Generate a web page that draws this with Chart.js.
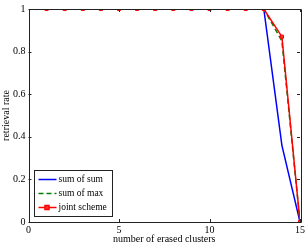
<!DOCTYPE html>
<html><head><meta charset="utf-8">
<script src="https://cdn.jsdelivr.net/npm/chart.js@4/dist/chart.umd.min.js"></script>
<style>html,body{margin:0;padding:0;background:#fff}#w{width:308px;height:246px}</style>
</head><body><div id="w"><canvas id="c"></canvas></div>
<script>
const clusters = [1,2,3,4,5,6,7,8,9,10,11,12,13,14,15];
const sumOfSum = [1,1,1,1,1,1,1,1,1,1,1,1,1,0.36,0];
const sumOfMax = [1,1,1,1,1,1,1,1,1,1,1,1,1,0.85,0];
const jointScheme = [1,1,1,1,1,1,1,1,1,1,1,1,1,0.87,0];
const xTicks = [0,5,10,15];
const yTicks = [0,0.2,0.4,0.6,0.8,1];
const seriesNames = ['sum of sum','sum of max','joint scheme'];
const FONT = '"Liberation Serif", "DejaVu Serif", serif';

const pts = a => a.map((v,i)=>({x:clusters[i],y:v}));

const framePlugin = {
  id:'frame',
  afterDatasetsDraw(chart){
    const {ctx, chartArea:a, scales:{x,y}} = chart;
    ctx.save();
    ctx.strokeStyle='#222'; ctx.lineWidth=1;
    ctx.beginPath();
    ctx.rect(Math.round(a.left)+0.5, Math.round(a.top)+0.5, Math.round(a.right-a.left), Math.round(a.bottom-a.top));
    ctx.stroke();
    const L=3;
    ctx.beginPath();
    xTicks.forEach(v=>{const px=Math.round(x.getPixelForValue(v))+0.5;
      ctx.moveTo(px,a.bottom);ctx.lineTo(px,a.bottom-L);
      ctx.moveTo(px,a.top);ctx.lineTo(px,a.top+L);});
    yTicks.forEach(v=>{const py=Math.round(y.getPixelForValue(v))+0.5;
      ctx.moveTo(a.left,py);ctx.lineTo(a.left+L,py);
      ctx.moveTo(a.right,py);ctx.lineTo(a.right-L,py);});
    ctx.stroke();
    // legend
    const lx=Math.round(a.left)+5.5, ly=170.5, lw=78, lh=46;
    ctx.fillStyle='#fff'; ctx.fillRect(lx,ly,lw,lh);
    ctx.strokeStyle='#222'; ctx.strokeRect(lx,ly,lw,lh);
    const ds = chart.data.datasets;
    const order=[0,1,2];
    ctx.font='9.5px '+FONT; ctx.textBaseline='middle'; ctx.fillStyle='#000';
    order.forEach((k,i)=>{
      const d=ds[k]; const yy=ly+9+i*14;
      ctx.save();
      ctx.strokeStyle=d.borderColor; ctx.lineWidth=d.borderWidth;
      ctx.setLineDash(d.borderDash||[]);
      ctx.beginPath(); ctx.moveTo(lx+4,yy); ctx.lineTo(lx+22,yy); ctx.stroke();
      if(d.pointStyle==='rect' && d.pointRadius>0){
        ctx.setLineDash([]); ctx.fillStyle=d.pointBackgroundColor; ctx.strokeStyle=d.pointBorderColor;
        ctx.fillRect(lx+10.5,yy-2,4,4); ctx.strokeRect(lx+10.5,yy-2,4,4);
      }
      ctx.restore();
      ctx.fillStyle='#000';
      ctx.fillText(d.label, lx+24, yy);
    });
    ctx.restore();
  }
};

new Chart(document.getElementById('c'),{
  type:'line',
  data:{datasets:[
    {label:seriesNames[0],data:pts(sumOfSum),borderColor:'#0000ff',borderWidth:1.5,pointRadius:0,order:3},
    {label:seriesNames[1],data:pts(sumOfMax),borderColor:'#008000',borderWidth:1.5,borderDash:[5,3],pointRadius:0,order:2},
    {label:seriesNames[2],data:pts(jointScheme),borderColor:'#ff0000',borderWidth:1.5,pointStyle:'rect',pointRadius:2.2,
      pointBackgroundColor:'#ff3030',pointBorderColor:'#ff0000',pointBorderWidth:1,order:1}
  ]},
  options:{
    responsive:true,maintainAspectRatio:false,animation:false,
    layout:{padding:{top:9,right:8,left:0,bottom:0}},
    plugins:{legend:{display:false},tooltip:{enabled:false}},
    scales:{
      x:{type:'linear',min:0,max:15,
        afterBuildTicks:s=>{s.ticks=xTicks.map(v=>({value:v}));},
        grid:{display:false,drawTicks:false},border:{display:false},
        ticks:{padding:2,color:'#000',font:{family:FONT,size:10},maxRotation:0,callback:v=>String(v)},
        title:{display:true,text:'number of erased clusters',color:'#000',font:{family:FONT,size:10},padding:{top:0,bottom:1}},
        afterFit:s=>{s.height=24;}
      },
      y:{min:0,max:1,
        afterBuildTicks:s=>{s.ticks=yTicks.map(v=>({value:v}));},
        grid:{display:false,drawTicks:false},border:{display:false},
        ticks:{padding:3,color:'#000',font:{family:FONT,size:10},callback:v=>String(Math.round(v*10)/10)},
        title:{display:true,text:'retrieval rate',color:'#000',font:{family:FONT,size:10},padding:{top:0,bottom:2}},
        afterFit:s=>{s.width=28.5;}
      }
    }
  },
  plugins:[framePlugin]
});
</script></body></html>
